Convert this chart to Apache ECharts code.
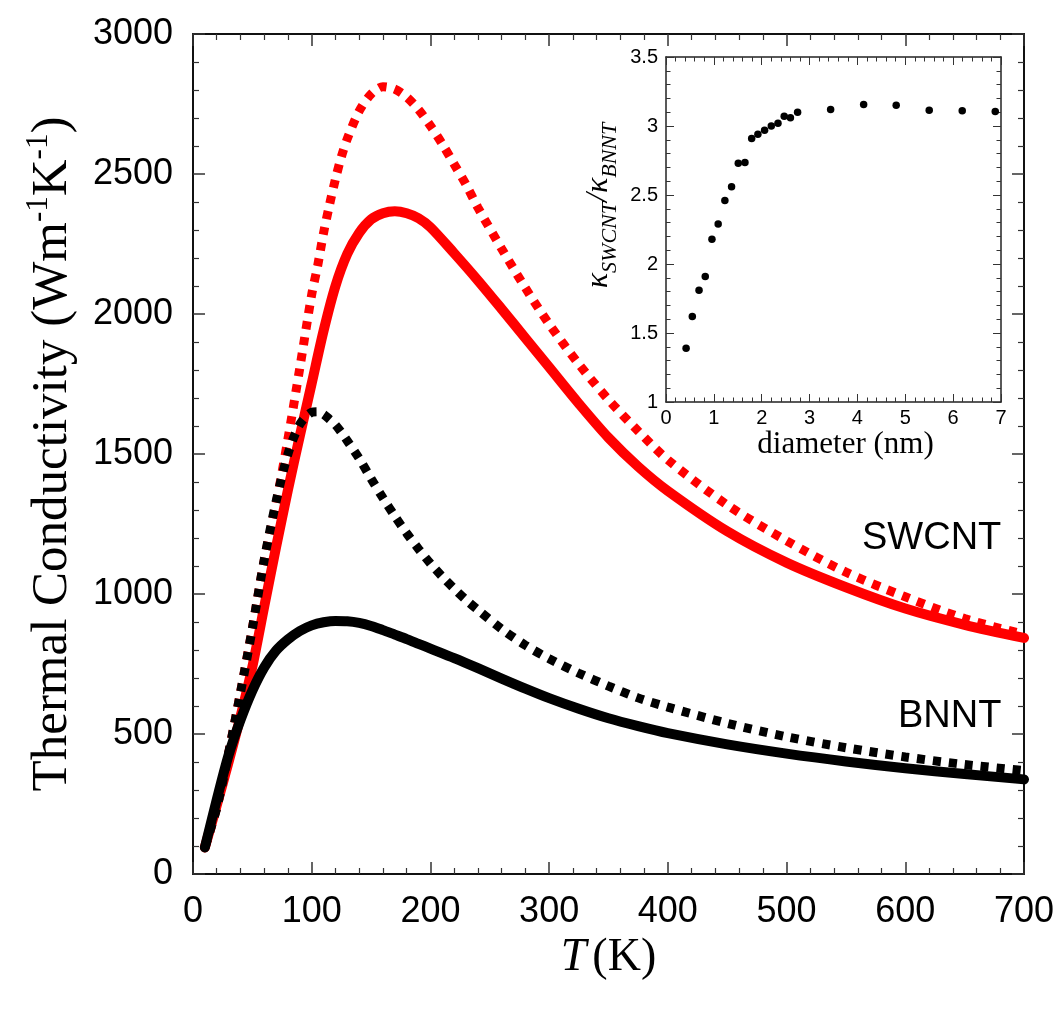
<!DOCTYPE html>
<html><head><meta charset="utf-8">
<script src="https://cdn.jsdelivr.net/npm/echarts@6/dist/echarts.min.js"></script>
<style>html,body{margin:0;padding:0;background:#fff}#c{width:1062px;height:1011px}</style>
</head><body><div id="c"></div>
<script>
// ---- main plot data (T in K, thermal conductivity in W m^-1 K^-1) ----
const tSolid = [10,20,30,40,50,60,70,80,90,100,110,120,130,140,150,160,170,180,190,200,220,240,260,280,300,325,350,375,400,450,500,550,600,650,700];
const swcntSolid = [95,245,400,562,740,955,1168,1372,1565,1752,1940,2100,2215,2290,2338,2360,2367,2360,2342,2310,2217,2120,2018,1914,1810,1680,1558,1455,1368,1224,1112,1024,948,890,843];
const bnntSolid  = [95,265,425,550,655,738,798,838,868,888,899,904,903,897,886,871,855,839,822,805,771,735,698,662,628,590,556,528,503,463,430,402,378,357,338];

const tDotted = [10,20,30,40,50,60,70,80,90,100,105,110,115,120,125,130,140,150,160,170,180,190,200,210,220,230,240,260,280,300,325,350,375,400,450,500,550,600,650,700];
const swcntDotted = [96,238,432,648,877,1120,1322,1554,1808,2070,2172,2290,2390,2482,2562,2626,2725,2785,2812,2803,2775,2730,2672,2607,2535,2462,2380,2233,2093,1964,1821,1694,1582,1479,1318,1190,1078,990,912,856];
const bnntDotted  = [96,236,432,647,877,1122,1330,1500,1606,1649,1651,1642,1624,1604,1577,1547,1484,1412,1343,1278,1217,1161,1109,1062,1019,979,943,875,817,769,717,671,629,596,538,490,451,418,391,369];

// ---- inset data ----
const diameter = [0.42,0.55,0.69,0.82,0.96,1.09,1.23,1.37,1.51,1.65,1.79,1.92,2.06,2.20,2.34,2.47,2.60,2.75,3.44,4.13,4.81,5.50,6.19,6.88];
const ratio    = [1.39,1.62,1.81,1.91,2.18,2.29,2.46,2.56,2.73,2.735,2.91,2.94,2.97,3.00,3.02,3.07,3.06,3.10,3.12,3.155,3.15,3.115,3.11,3.105];

const mainXTicks = [0,700,100];
const mainYTicks = [0,3000,500];
const insetXTicks = [0,7,1];
const insetYTicks = [1,3.5,0.5];

const pairs = (xs, ys) => xs.map((x, i) => [x, ys[i]]);
const plain = v => String(v);

const SANS = 'Liberation Sans';
const SERIF = 'Liberation Serif';

function axisBase(range, opts) {
  return Object.assign({
    type: 'value', min: range[0], max: range[1], interval: range[2],
    splitLine: {show: false},
    axisLine: {show: true, onZero: false, lineStyle: {color: '#111', width: 2}},
    axisTick: {show: true, inside: true, length: 12, lineStyle: {color: '#333', width: 1.5}},
    minorTick: {show: true, splitNumber: 5, length: 6, lineStyle: {color: '#333', width: 1.2}},
    axisLabel: {show: false}
  }, opts);
}
const insetLine = {show: true, onZero: false, lineStyle: {color: '#222', width: 1.5}};
const insetTick = {show: true, inside: true, length: 8, lineStyle: {color: '#333', width: 1}};
const insetMinor = {show: true, splitNumber: 5, length: 4.5, lineStyle: {color: '#333', width: 1}};

const chart = echarts.init(document.getElementById('c'), null, {renderer: 'canvas'});
chart.setOption({
  animation: false,
  backgroundColor: '#fff',
  grid: [
    {left: 193, top: 34, width: 831, height: 840},
    {left: 666, top: 57, width: 335, height: 345}
  ],
  xAxis: [
    axisBase(mainXTicks, {gridIndex: 0, position: 'bottom',
      axisLabel: {show: true, fontFamily: SANS, fontSize: 36, color: '#000', margin: 20, formatter: plain},
      name: '{i|T}{n|(K)}', nameLocation: 'middle', nameGap: 58,
      nameTextStyle: {rich: {
        i: {fontFamily: SERIF, fontStyle: 'italic', fontSize: 46, color: '#000'},
        n: {fontFamily: SERIF, fontSize: 46, color: '#000', padding: [0, 0, 0, 6]}}}
    }),
    axisBase(mainXTicks, {gridIndex: 0, position: 'top'}),
    axisBase(insetXTicks, {gridIndex: 1, position: 'bottom',
      axisLine: insetLine, axisTick: insetTick, minorTick: insetMinor,
      axisLabel: {show: true, fontFamily: SANS, fontSize: 20, color: '#000', margin: 6, formatter: plain},
      name: 'diameter (nm)', nameLocation: 'middle', nameGap: 24,
      nameTextStyle: {fontFamily: SERIF, fontSize: 31, color: '#000', padding: [0, 0, 0, 24]}
    }),
    axisBase(insetXTicks, {gridIndex: 1, position: 'top',
      axisLine: insetLine, axisTick: insetTick, minorTick: insetMinor})
  ],
  yAxis: [
    axisBase(mainYTicks, {gridIndex: 0, position: 'left',
      axisLabel: {show: true, fontFamily: SANS, fontSize: 36, color: '#000', margin: 20, formatter: plain},
      name: '{a|Thermal Conductivity (Wm}{s|-1}{a|K}{s|-1}{a|)}',
      nameLocation: 'middle', nameRotate: 90, nameGap: 110,
      nameTextStyle: {rich: {
        a: {fontFamily: SERIF, fontSize: 51, color: '#000', lineHeight: 56},
        s: {fontFamily: SERIF, fontSize: 31, color: '#000', lineHeight: 56, padding: [0, 0, 28, 0]}}}
    }),
    axisBase(mainYTicks, {gridIndex: 0, position: 'right'}),
    axisBase(insetYTicks, {gridIndex: 1, position: 'left',
      axisLine: insetLine, axisTick: insetTick, minorTick: insetMinor,
      axisLabel: {show: true, fontFamily: SANS, fontSize: 20, color: '#000', margin: 8, formatter: plain},
      name: '{k|\u03BA}{b|SWCNT}{k|/\u03BA}{b|BNNT}',
      nameLocation: 'middle', nameRotate: 90, nameGap: 40,
      nameTextStyle: {padding: [0, 0, 0, 48], rich: {
        k: {fontFamily: SERIF, fontStyle: 'italic', fontSize: 32, color: '#000', lineHeight: 36, padding: [0, 0, 12, 0]},
        b: {fontFamily: SERIF, fontStyle: 'italic', fontSize: 22, color: '#000', lineHeight: 36, padding: [12, 0, 0, 0]}}}
    }),
    axisBase(insetYTicks, {gridIndex: 1, position: 'right',
      axisLine: insetLine, axisTick: insetTick, minorTick: insetMinor})
  ],
  series: [
    {name: 'SWCNT solid', type: 'line', xAxisIndex: 0, yAxisIndex: 0, data: pairs(tSolid, swcntSolid),
      showSymbol: false, smooth: 0.3, lineStyle: {color: '#ff0000', width: 10, cap: 'round', join: 'round'}, z: 2},
    {name: 'SWCNT dotted', type: 'line', xAxisIndex: 0, yAxisIndex: 0, data: pairs(tDotted, swcntDotted),
      showSymbol: false, smooth: 0.3, lineStyle: {color: '#ff0000', width: 9, type: [8, 8], cap: 'butt'}, z: 3},
    {name: 'BNNT solid', type: 'line', xAxisIndex: 0, yAxisIndex: 0, data: pairs(tSolid, bnntSolid),
      showSymbol: false, smooth: 0.3, lineStyle: {color: '#000', width: 10, cap: 'round', join: 'round'}, z: 4},
    {name: 'BNNT dotted', type: 'line', xAxisIndex: 0, yAxisIndex: 0, data: pairs(tDotted, bnntDotted),
      showSymbol: false, smooth: 0.3, lineStyle: {color: '#000', width: 9, type: [8, 8], cap: 'butt'}, z: 5},
    {name: 'ratio', type: 'scatter', xAxisIndex: 2, yAxisIndex: 2, data: pairs(diameter, ratio),
      symbol: 'circle', symbolSize: 7.5, itemStyle: {color: '#000', opacity: 1}, z: 6}
  ],
  graphic: [
    {type: 'text', left: 862, top: 520, style: {text: 'SWCNT', font: '38px "Liberation Sans"', fill: '#000'}},
    {type: 'text', left: 898, top: 698, style: {text: 'BNNT', font: '38px "Liberation Sans"', fill: '#000'}}
  ]
});
</script>
</body></html>
